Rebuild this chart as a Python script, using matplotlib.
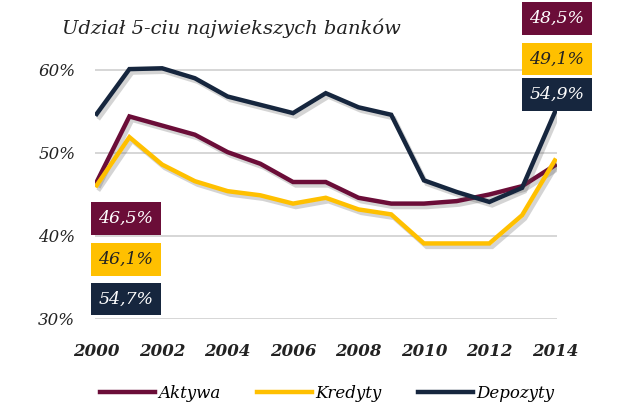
import matplotlib
matplotlib.use('Agg')
import matplotlib.pyplot as plt
import matplotlib.patheffects as pe
from matplotlib.lines import Line2D
import numpy as np

# Dane: udzial 5 najwiekszych bankow (%)
lata = list(range(2000, 2015))
aktywa = [46.5, 54.4, 53.3, 52.2, 50.1, 48.7, 46.5, 46.5, 44.6, 43.9, 43.9, 44.2, 45.0, 46.0, 48.5]
kredyty = [46.1, 51.9, 48.6, 46.6, 45.4, 44.9, 43.9, 44.6, 43.2, 42.6, 39.1, 39.1, 39.1, 42.5, 49.1]
depozyty = [54.7, 60.1, 60.2, 59.0, 56.8, 55.8, 54.8, 57.2, 55.5, 54.6, 46.7, 45.3, 44.1, 45.8, 54.9]

nazwy = ['Aktywa', 'Kredyty', 'Depozyty']
kolory = ['#6b0d38', '#ffc000', '#16263e']
etykiety_start = ['46,5%', '46,1%', '54,7%']
etykiety_koniec = ['48,5%', '49,1%', '54,9%']
y_ticks = [30, 40, 50, 60]
x_ticks = list(range(2000, 2015, 2))

fig = plt.figure(figsize=(6.4, 4.2), dpi=100)
ax = fig.add_axes([0.148, 0.2405, 0.722, 0.6325])

cien = [pe.SimpleLineShadow(offset=(2, -2.5), alpha=0.25, shadow_color='#555555'), pe.Normal()]
for seria, kolor in zip([aktywa, kredyty, depozyty], kolory):
    ax.plot(lata, seria, color=kolor, lw=3.2, solid_joinstyle='miter',
            path_effects=cien, zorder=3)

ax.set_xlim(1999.94, 2014.06)
ax.set_ylim(30, 62)
ax.set_yticks(y_ticks)
ax.set_yticklabels([f'{v}%' for v in y_ticks], fontsize=12, style='italic',
                   family='DejaVu Serif', color='#222222')
ax.set_xticks(x_ticks)
ax.set_xticklabels([str(v) for v in x_ticks], fontsize=12, style='italic', weight='bold',
                   family='DejaVu Serif', color='#222222')
ax.tick_params(length=0)
ax.tick_params(axis='y', pad=14)
ax.tick_params(axis='x', pad=17)
ax.grid(axis='y', color='#d0d0d0', lw=1.2)
for s in ax.spines.values():
    s.set_visible(False)

# Etykiety wartosci
kolory_tekstu = ['white', '#222222', 'white']
poz_start = [218.5, 259.5, 299]
poz_koniec = [18.5, 59, 94.5]
for i in range(3):
    fig.text(126 / 640, 1 - poz_start[i] / 420, etykiety_start[i], ha='center', va='center',
             fontsize=12.5, style='italic', family='DejaVu Serif', color=kolory_tekstu[i],
             bbox=dict(boxstyle='square,pad=0.45', fc=kolory[i], ec='none'))
    fig.text(557 / 640, 1 - poz_koniec[i] / 420, etykiety_koniec[i], ha='center', va='center',
             fontsize=12.5, style='italic', family='DejaVu Serif', color=kolory_tekstu[i],
             bbox=dict(boxstyle='square,pad=0.45', fc=kolory[i], ec='none'))

fig.text(62 / 640, 1 - 28 / 420, 'Udział 5-ciu najwiekszych banków', ha='left', va='center',
         fontsize=14, style='italic', family='DejaVu Serif', color='#222222')

uchwyty = [Line2D([], [], color=k, lw=3.2) for k in kolory]
fig.legend(handles=uchwyty, labels=nazwy, loc='center', bbox_to_anchor=(327 / 640, 1 - 393 / 420),
           ncol=3, frameon=False, handlelength=3.3, handletextpad=0.2, columnspacing=2.2,
           prop=dict(family='DejaVu Serif', style='italic', size=12))

fig.savefig('out.png', dpi=100)
